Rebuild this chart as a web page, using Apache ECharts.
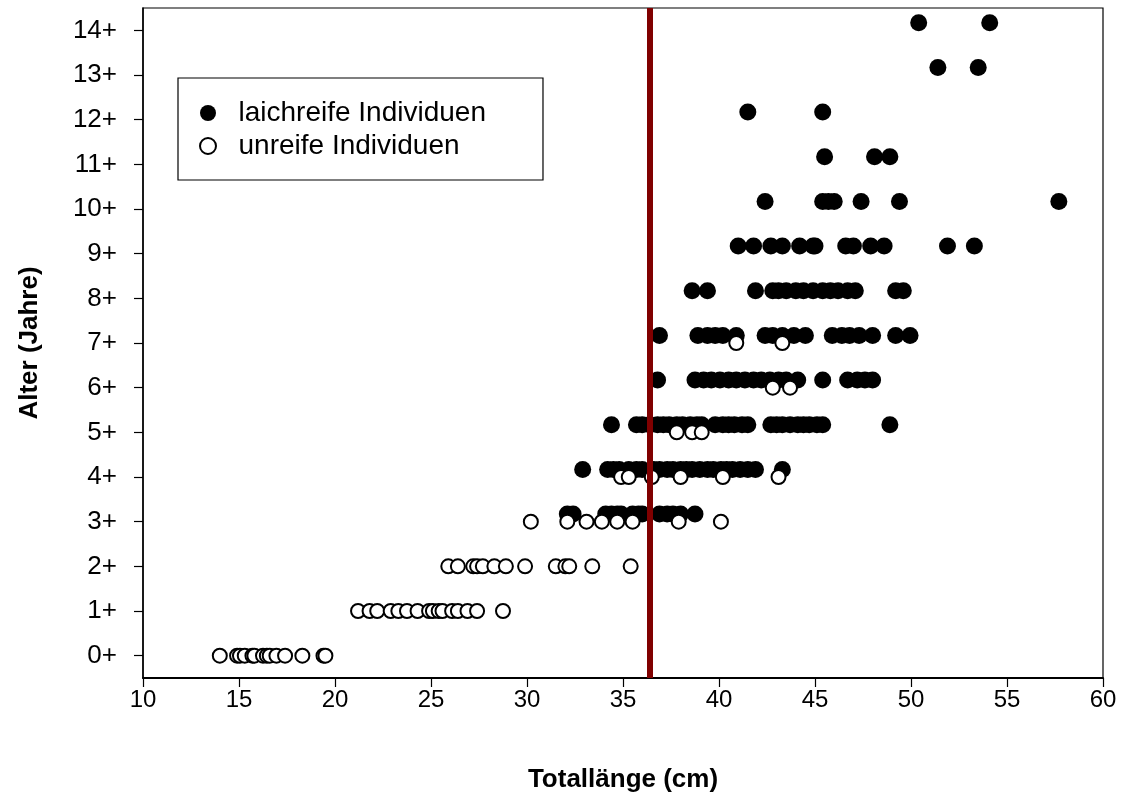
<!DOCTYPE html>
<html>
<head>
<meta charset="utf-8">
<title>Alter vs. Totallänge</title>
<script src="https://cdn.jsdelivr.net/npm/echarts@6/dist/echarts.min.js"></script>
<style>
    html, body { margin: 0; padding: 0; background: #fff; }
    #chart { width: 1122px; height: 798px; }
</style>
</head>
<body>
<div id="chart"></div>
<script>
// Altersklassen (Jahre) und Totallängen (cm) je Klasse
const ageTicks = [0, 1, 2, 3, 4, 5, 6, 7, 8, 9, 10, 11, 12, 13, 14];

const matureAges = [3, 4, 5, 6, 7, 8, 9, 10, 11, 12, 13, 14];
const matureLengths = [
    [32.1, 32.4, 34.1, 34.4, 34.7, 34.9, 35.5, 35.8, 36.0, 36.9, 37.3, 37.6, 38.0, 38.75],
    [32.9, 34.2, 34.5, 34.8, 35.3, 35.7, 36.0, 36.6, 36.9, 37.3, 37.6, 38.0, 38.3, 38.6, 39.0, 39.4, 39.7, 40.1, 40.4, 40.7, 41.1, 41.5, 41.9, 43.3],
    [34.4, 35.7, 36.0, 36.4, 36.8, 37.1, 37.4, 37.8, 38.1, 38.5, 38.85, 39.1, 39.8, 40.2, 40.5, 40.8, 41.2, 41.5, 42.7, 43.0, 43.3, 43.7, 44.1, 44.4, 44.7, 45.1, 45.4, 48.9],
    [36.8, 38.75, 39.2, 39.6, 40.05, 40.5, 40.9, 41.35, 41.8, 42.2, 42.65, 43.1, 43.5, 44.1, 45.4, 46.7, 47.2, 47.6, 48.0],
    [36.9, 38.9, 39.4, 39.8, 40.2, 40.9, 42.4, 42.8, 43.3, 43.9, 44.5, 45.9, 46.4, 46.8, 47.3, 48.0, 49.2, 49.95],
    [38.6, 39.4, 41.9, 42.8, 43.1, 43.5, 44.0, 44.4, 44.9, 45.4, 45.8, 46.2, 46.7, 47.1, 49.2, 49.6],
    [41.0, 41.8, 42.7, 43.3, 44.2, 44.9, 45.0, 46.6, 47.0, 47.9, 48.6, 51.9, 53.3],
    [42.4, 45.4, 45.7, 46.0, 47.4, 49.4, 57.7],
    [45.5, 48.1, 48.9],
    [41.5, 45.4],
    [51.4, 53.5],
    [50.4, 54.1]
];

const immatureAges = [0, 1, 2, 3, 4, 5, 6, 7];
const immatureLengths = [
    [14.0, 14.9, 15.05, 15.3, 15.7, 15.8, 16.25, 16.45, 16.6, 16.95, 17.4, 18.3, 19.4, 19.5],
    [21.2, 21.8, 22.2, 22.9, 23.3, 23.75, 24.3, 24.9, 25.1, 25.4, 25.6, 26.1, 26.4, 26.9, 27.4, 28.75],
    [25.9, 26.4, 27.2, 27.4, 27.7, 28.3, 28.9, 29.9, 31.5, 32.0, 32.2, 33.4, 35.4],
    [30.2, 32.1, 33.1, 33.9, 34.7, 35.5, 37.9, 40.1],
    [34.9, 35.3, 36.5, 38.0, 40.2, 43.1],
    [37.8, 38.6, 39.1],
    [42.8, 43.7],
    [40.9, 43.3]
];

// Laichreife ab Totallänge (cm)
const maturityLength = 36.4;

const FONT = '"Liberation Sans", Arial, sans-serif';

// Punkte aufbauen (laichreife leicht nach oben versetzt wie im Original)
function buildPoints(ages, lengths, shift) {
    const pts = [];
    ages.forEach(function(age, i) {
        lengths[i].forEach(function(len) {
            pts.push([len, age + shift]);
        });
    });
    return pts;
}

const chart = echarts.init(document.getElementById('chart'));

const option = {
    backgroundColor: '#fff',
    animation: false,
    grid: {
        left: 143,
        right: 19,
        top: 8,
        bottom: 120,
        show: true,
        borderColor: '#000',
        borderWidth: 1.2
    },
    legend: {
        orient: 'vertical',
        left: 178,
        top: 78,
        padding: [21, 57, 20, 21],
        itemGap: 5,
        itemWidth: 51,
        itemHeight: 16,
        borderColor: '#000',
        borderWidth: 1.2,
        textStyle: { fontFamily: FONT, fontSize: 28, color: '#000', lineHeight: 28 },
        data: [
            { name: 'laichreife Individuen', icon: 'circle' },
            { name: 'unreife Individuen', icon: 'circle' }
        ]
    },
    xAxis: {
        type: 'value',
        min: 10,
        max: 60,
        interval: 5,
        name: 'Totallänge (cm)',
        nameLocation: 'middle',
        nameGap: 89,
        nameTextStyle: { fontFamily: FONT, fontSize: 26, fontWeight: 'bold', color: '#000' },
        axisLine: { onZero: false, lineStyle: { color: '#000', width: 2 } },
        axisTick: { length: 9, lineStyle: { color: '#000', width: 1.2 } },
        axisLabel: { fontFamily: FONT, fontSize: 24, color: '#000', margin: 10 },
        splitLine: { show: false }
    },
    yAxis: {
        type: 'value',
        min: -0.5,
        max: 14.5,
        name: 'Alter (Jahre)',
        nameLocation: 'middle',
        nameGap: 100,
        nameTextStyle: { fontFamily: FONT, fontSize: 26, fontWeight: 'bold', color: '#000' },
        axisLine: { show: true, onZero: false, lineStyle: { color: '#000', width: 1.5 } },
        axisTick: {
            show: true,
            length: 9,
            customValues: ageTicks,
            lineStyle: { color: '#000', width: 1.2 }
        },
        axisLabel: {
            fontFamily: FONT,
            fontSize: 26,
            color: '#000',
            margin: 26,
            customValues: ageTicks,
            formatter: function(v) { return v + '+'; }
        },
        splitLine: { show: false }
    },
    series: [
        {
            name: 'laichreife Individuen',
            type: 'scatter',
            symbol: 'circle',
            symbolSize: 17,
            itemStyle: { color: '#000', opacity: 1 },
            data: buildPoints(matureAges, matureLengths, 0.17),
            z: 2
        },
        {
            name: 'unreife Individuen',
            type: 'scatter',
            symbol: 'circle',
            symbolSize: 14,
            itemStyle: { color: '#fff', borderColor: '#000', borderWidth: 2, opacity: 1 },
            data: buildPoints(immatureAges, immatureLengths, 0),
            z: 3
        },
        {
            // Grenzlänge der Laichreife
            name: 'grenze',
            type: 'scatter',
            data: [],
            z: 5,
            markLine: {
                silent: true,
                symbol: 'none',
                label: { show: false },
                lineStyle: { color: '#800000', width: 6, type: 'solid' },
                data: [{ xAxis: maturityLength }]
            }
        }
    ]
};

chart.setOption(option);
</script>
</body>
</html>
